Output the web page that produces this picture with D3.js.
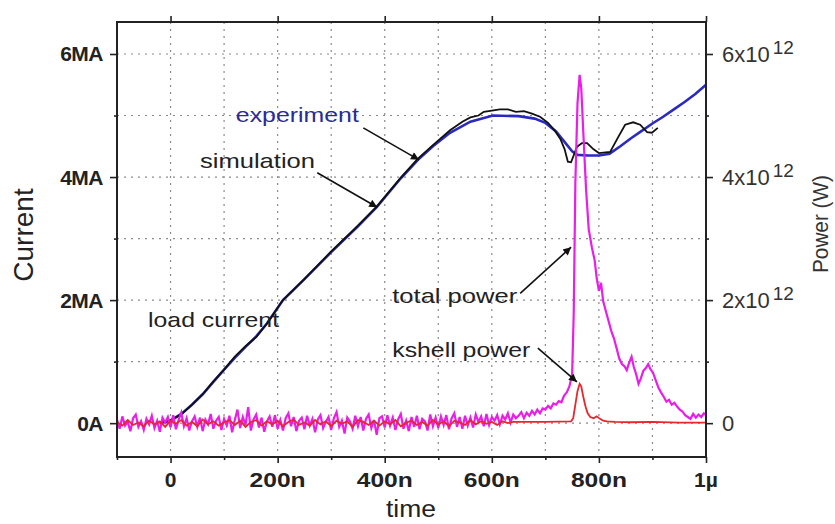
<!DOCTYPE html>
<html>
<head>
<meta charset="utf-8">
<script src="https://cdn.jsdelivr.net/npm/d3@7"></script>
<style>
  body { margin: 0; background: #fff; }
  svg { display: block; font-family: "Liberation Sans", Arial, sans-serif; }
</style>
</head>
<body>
<svg id="chart" width="835" height="524"></svg>
<script>
// time axis in ns, current in MA, power in 1e12 W (same scale as MA)
const xTickValues = [0, 200, 400, 600, 800, 1000];
const xTickLabels = ['0', '200n', '400n', '600n', '800n', '1\u00b5'];
const yTickValues = [0, 2, 4, 6];
const yTickLabels = ['0A', '2MA', '4MA', '6MA'];
const powerTickLabels = ['0', '2x10', '4x10', '6x10'];

// load current, experiment (blue)
const expTime = [-20, 0, 20, 40, 60, 80, 100, 120, 140, 160, 180, 210, 250, 300, 350, 385, 430, 462,
  490, 522, 560, 602, 650, 680, 700, 720, 735, 750, 760, 780, 800, 820, 840, 860, 880, 900, 920,
  940, 960, 980, 1000];
const expCurrent = [0, 0.04, 0.15, 0.3, 0.47, 0.67, 0.87, 1.06, 1.24, 1.41, 1.62, 2.0, 2.34, 2.78,
  3.2, 3.51, 3.98, 4.28, 4.5, 4.72, 4.9, 5.0, 4.99, 4.95, 4.88, 4.74, 4.58, 4.42, 4.36, 4.35, 4.35,
  4.38, 4.5, 4.63, 4.75, 4.87, 4.98, 5.1, 5.22, 5.35, 5.5];

// load current, simulation (black)
const simTime = [-20, 0, 20, 40, 60, 80, 100, 120, 140, 160, 180, 210, 250, 300, 350, 385, 430, 462,
  490, 522, 545, 560, 575, 585, 600, 615, 630, 645, 660, 675, 690, 705, 718, 728, 736, 742, 748,
  759, 768, 778, 790, 800, 821, 836, 849, 864, 877, 890, 899, 910];
const simCurrent = [0, 0.05, 0.14, 0.3, 0.47, 0.68, 0.87, 1.08, 1.25, 1.4, 1.62, 2.0, 2.34, 2.79,
  3.21, 3.52, 3.99, 4.3, 4.52, 4.76, 4.9, 4.97, 5.0, 5.06, 5.08, 5.1, 5.1, 5.06, 5.07, 5.03, 4.98,
  4.88, 4.75, 4.62, 4.45, 4.25, 4.24, 4.49, 4.55, 4.55, 4.45, 4.39, 4.41, 4.65, 4.85, 4.89, 4.85,
  4.73, 4.72, 4.8];

// total power (magenta): noisy baseline every 5 ns from -100 to 645, then the pulse
const totalNoiseStart = -100;
const totalNoiseStep = 5;
const totalNoise = [
  0.06, -0.09, 0.11, -0.04, 0.02, -0.13, 0.08, 0.14, -0.06, 0.03,
  -0.11, 0.07, -0.02, 0.12, -0.08, 0.04, -0.14, 0.09, 0.01, 0.10,
  -0.07, 0.13, -0.10, 0.05, 0.17, -0.05, 0.08, -0.12, 0.03, 0.11,
  -0.06, 0.09, -0.13, 0.06, -0.02, 0.15, -0.09, 0.04, 0.10, -0.11,
  0.07, -0.04, 0.12, -0.15, 0.05, 0.22, -0.08, 0.10, -0.03, 0.26,
  -0.12, 0.06, 0.14, -0.07, 0.09, -0.14, 0.03, 0.11, -0.06, 0.13,
  -0.09, 0.05, -0.12, 0.08, 0.16, -0.05, 0.10, -0.13, 0.04, 0.09,
  -0.10, 0.12, -0.04, 0.07, -0.15, 0.06, 0.13, -0.08, 0.02, 0.10,
  -0.11, 0.08, 0.18, -0.06, 0.04, -0.17, 0.09, 0.03, -0.09, 0.12,
  -0.05, 0.10, -0.12, 0.07, 0.14, -0.08, 0.05, -0.19, 0.08, 0.11,
  -0.07, 0.13, -0.04, 0.09, -0.11, 0.06, 0.15, -0.09, 0.04, -0.13,
  0.10, -0.06, 0.12, -0.10, 0.07, 0.03, -0.12, 0.14, -0.05, 0.09,
  -0.08, 0.11, -0.03, 0.13, -0.10, 0.08, 0.16, -0.06, 0.10, -0.09,
  0.12, -0.04, 0.09, -0.07, 0.14, 0.02, 0.11, -0.05, 0.15, -0.03,
  0.10, 0.04, 0.13, -0.02, 0.12, 0.06, 0.16, 0.01, 0.14, 0.08
];
const totalPulseTime = [650, 655, 660, 665, 670, 675, 680, 685, 690, 695, 700, 705, 710, 715, 720,
  725, 730, 735, 740, 745, 750, 753, 756, 760, 764, 767, 771, 776, 781, 787, 792, 796, 800, 804,
  808, 813, 818, 823, 828, 833, 838, 843, 848, 852, 856, 861, 865, 870, 874, 878, 883, 888, 892,
  896, 901, 906, 911, 916, 921, 926, 931, 936, 941, 946, 951, 956, 961, 966, 971, 976, 981, 986,
  991, 996, 1000];
const totalPulse = [0.12, 0.18, 0.08, 0.17, 0.12, 0.2, 0.14, 0.22, 0.16, 0.24, 0.22, 0.28, 0.24,
  0.32, 0.3, 0.36, 0.34, 0.45, 0.5, 0.6, 0.8, 1.8, 3.9, 5.2, 5.66, 5.45, 4.7, 3.8, 3.15, 2.85, 2.65,
  2.35, 2.15, 2.28, 1.98, 1.82, 1.66, 1.5, 1.38, 1.22, 1.05, 0.96, 0.92, 0.86, 0.97, 1.08, 0.92,
  0.78, 0.64, 0.72, 0.85, 0.9, 0.96, 0.88, 0.82, 0.7, 0.58, 0.5, 0.43, 0.35, 0.38, 0.3, 0.33, 0.27,
  0.22, 0.19, 0.13, 0.1, 0.07, 0.15, 0.09, 0.14, 0.1, 0.16, 0.13];

// kshell power (red): noisy baseline every 10 ns from -100 to 640, then the pulse
const kshellNoiseStart = -100;
const kshellNoiseStep = 10;
const kshellNoise = [
  0.02, -0.04, 0.05, -0.03, 0.01, -0.05, 0.04, -0.02, 0.03, -0.06,
  0.04, -0.01, 0.05, -0.04, 0.02, -0.05, 0.06, -0.02, 0.03, -0.04,
  0.01, 0.05, -0.03, 0.04, -0.06, 0.02, 0.05, -0.04, 0.03, -0.02,
  0.04, -0.05, 0.02, 0.06, -0.03, 0.01, -0.04, 0.05, -0.02, 0.03,
  -0.05, 0.04, -0.01, 0.03, -0.06, 0.05, 0.02, -0.03, 0.04, -0.04,
  0.03, -0.02, 0.05, -0.05, 0.01, 0.04, -0.03, 0.02, -0.04, 0.05,
  -0.02, 0.03, -0.05, 0.04, 0.01, -0.03, 0.05, -0.02, 0.03, -0.01,
  0.02, -0.03, 0.03, 0.0, 0.02
];
const kshellPulseTime = [650, 700, 748, 752, 756, 760, 764, 767, 771, 775, 779, 784, 790, 796, 802,
  808, 815, 830, 860, 900, 950, 1000];
const kshellPulse = [0.02, 0.02, 0.03, 0.08, 0.3, 0.52, 0.64, 0.6, 0.42, 0.27, 0.16, 0.1, 0.08,
  0.11, 0.07, 0.04, 0.03, 0.02, 0.015, 0.02, 0.01, 0.01];

// annotations: text anchor and arrow (tail -> tip) in data units
const notes = [
  { text: 'experiment', t: 122, v: 4.89, width: 123, color: '#2b2b95', from: [360, 4.80], to: [464, 4.28] },
  { text: 'simulation', t: 55, v: 4.15, width: 115, color: '#222', from: [274, 4.07], to: [386, 3.51] },
  { text: 'load current', t: -42, v: 1.56, width: 131, color: '#222' },
  { text: 'total power', t: 414, v: 1.95, width: 125, color: '#222', from: [653, 2.11], to: [748, 2.86] },
  { text: 'kshell power', t: 414, v: 1.07, width: 138, color: '#222', from: [686, 1.22], to: [759, 0.67] },
];

const svg = d3.select('#chart');
const plotLeft = 117;
const plotRight = 706;
const plotTop = 22;
const plotBottom = 457;

const x = d3.scaleLinear().domain([-100, 1000]).range([plotLeft, plotRight]);
const y = d3.scaleLinear().domain([-0.55, 6.52]).range([plotBottom, plotTop]);

// grid
const grid = svg.append('g').attr('stroke', '#8a8a8a').attr('stroke-width', 1.2)
  .attr('stroke-dasharray', '2,5');
grid.selectAll('.vg').data(d3.range(0, 1000, 100)).enter().append('line')
  .attr('x1', d => x(d)).attr('x2', d => x(d))
  .attr('y1', plotTop).attr('y2', plotBottom);
grid.selectAll('.hg').data(d3.range(0, 7, 1)).enter().append('line')
  .attr('x1', plotLeft).attr('x2', plotRight)
  .attr('y1', d => y(d)).attr('y2', d => y(d));

// axes: ticks only, labels drawn separately
const tickStyle = g => g.call(s => s.select('.domain').remove())
  .call(s => s.selectAll('line').attr('stroke', '#222').attr('stroke-width', 1.6))
  .call(s => s.selectAll('text').remove());
svg.append('g').attr('transform', `translate(0,${plotBottom})`)
  .call(d3.axisBottom(x).tickValues(xTickValues).tickSize(6)).call(tickStyle);
svg.append('g').attr('transform', `translate(0,${plotBottom})`)
  .call(d3.axisBottom(x).tickValues([-100, 100, 300, 500, 700, 900]).tickSize(3)).call(tickStyle);
svg.append('g').attr('transform', `translate(0,${plotTop})`)
  .call(d3.axisTop(x).tickValues(xTickValues).tickSize(6)).call(tickStyle);
svg.append('g').attr('transform', `translate(${plotLeft},0)`)
  .call(d3.axisLeft(y).tickValues(yTickValues).tickSize(7)).call(tickStyle);
svg.append('g').attr('transform', `translate(${plotLeft},0)`)
  .call(d3.axisLeft(y).tickValues([1, 3, 5]).tickSize(3)).call(tickStyle);
svg.append('g').attr('transform', `translate(${plotRight},0)`)
  .call(d3.axisRight(y).tickValues(yTickValues).tickSize(7)).call(tickStyle);
svg.append('g').attr('transform', `translate(${plotRight},0)`)
  .call(d3.axisRight(y).tickValues([1, 3, 5]).tickSize(3)).call(tickStyle);

// series
const line = d3.line().x(d => x(d[0])).y(d => y(d[1]));
const zip = (ts, vs) => ts.map((t, i) => [t, vs[i]]);
const noise = (start, step, vs) => vs.map((v, i) => [start + i * step, v]);

const plot = svg.append('g');
plot.append('path').datum(zip(expTime, expCurrent)).attr('d', line)
  .attr('fill', 'none').attr('stroke', '#2a2ac0').attr('stroke-width', 2.6);
plot.append('path').datum(zip(simTime, simCurrent)).attr('d', line)
  .attr('fill', 'none').attr('stroke', '#111').attr('stroke-width', 1.8);
plot.append('path')
  .datum(noise(totalNoiseStart, totalNoiseStep, totalNoise).concat(zip(totalPulseTime, totalPulse)))
  .attr('d', line).attr('fill', 'none').attr('stroke', '#e91ee9').attr('stroke-width', 2.2);
plot.append('path')
  .datum(noise(kshellNoiseStart, kshellNoiseStep, kshellNoise).concat(zip(kshellPulseTime, kshellPulse)))
  .attr('d', line).attr('fill', 'none').attr('stroke', '#e8262e').attr('stroke-width', 1.8);

// frame
svg.append('rect').attr('x', plotLeft).attr('y', plotTop)
  .attr('width', plotRight - plotLeft).attr('height', plotBottom - plotTop)
  .attr('fill', 'none').attr('stroke', '#222').attr('stroke-width', 2);

// tick labels
svg.append('g').selectAll('text').data(xTickValues).enter().append('text')
  .attr('x', d => x(d)).attr('y', 487)
  .attr('text-anchor', 'middle').attr('font-weight', 'bold').attr('font-size', 21)
  .attr('fill', '#222')
  .each(function (d, i) {
    const t = d3.select(this).text(xTickLabels[i]);
    if (xTickLabels[i].length === 4) t.attr('textLength', 56).attr('lengthAdjust', 'spacingAndGlyphs');
  });

svg.append('g').selectAll('text').data(yTickValues).enter().append('text')
  .attr('x', 103).attr('y', d => y(d) + 7.5)
  .attr('text-anchor', 'end').attr('font-weight', 'bold').attr('font-size', 21)
  .attr('fill', '#222').attr('letter-spacing', -0.5)
  .text((d, i) => yTickLabels[i]);

const pLabels = svg.append('g').selectAll('text').data(yTickValues).enter().append('text')
  .attr('x', 722).attr('y', d => y(d) + 8)
  .attr('font-size', 22).attr('fill', '#333');
pLabels.append('tspan').text((d, i) => powerTickLabels[i]);
pLabels.filter(d => d > 0).append('tspan')
  .attr('dx', 3).attr('dy', -8).attr('font-size', 19).text('12');

// axis titles
svg.append('text').attr('x', 411).attr('y', 517).attr('text-anchor', 'middle')
  .attr('font-size', 23).attr('fill', '#222').attr('textLength', 50)
  .attr('lengthAdjust', 'spacingAndGlyphs').text('time');
svg.append('text').attr('transform', 'translate(33,235) rotate(-90)').attr('text-anchor', 'middle')
  .attr('font-size', 28).attr('fill', '#222').text('Current');
svg.append('text').attr('transform', 'translate(828,224) rotate(-90)').attr('text-anchor', 'middle')
  .attr('font-size', 22).attr('fill', '#333').attr('textLength', 98)
  .attr('lengthAdjust', 'spacingAndGlyphs').text('Power (W)');

// annotations
svg.append('defs').append('marker').attr('id', 'head')
  .attr('viewBox', '0 0 10 10').attr('refX', 10).attr('refY', 5)
  .attr('markerWidth', 11).attr('markerHeight', 8)
  .attr('markerUnits', 'userSpaceOnUse').attr('orient', 'auto')
  .append('path').attr('d', 'M0,0L10,5L0,10z').attr('fill', '#111');

const ann = svg.append('g');
notes.forEach(n => {
  ann.append('text').attr('x', x(n.t)).attr('y', y(n.v))
    .attr('font-size', 21).attr('fill', n.color)
    .attr('textLength', n.width).attr('lengthAdjust', 'spacingAndGlyphs')
    .text(n.text);
  if (n.from) {
    ann.append('line')
      .attr('x1', x(n.from[0])).attr('y1', y(n.from[1]))
      .attr('x2', x(n.to[0])).attr('y2', y(n.to[1]))
      .attr('stroke', '#111').attr('stroke-width', 1.6)
      .attr('marker-end', 'url(#head)');
  }
});
</script>
</body>
</html>
